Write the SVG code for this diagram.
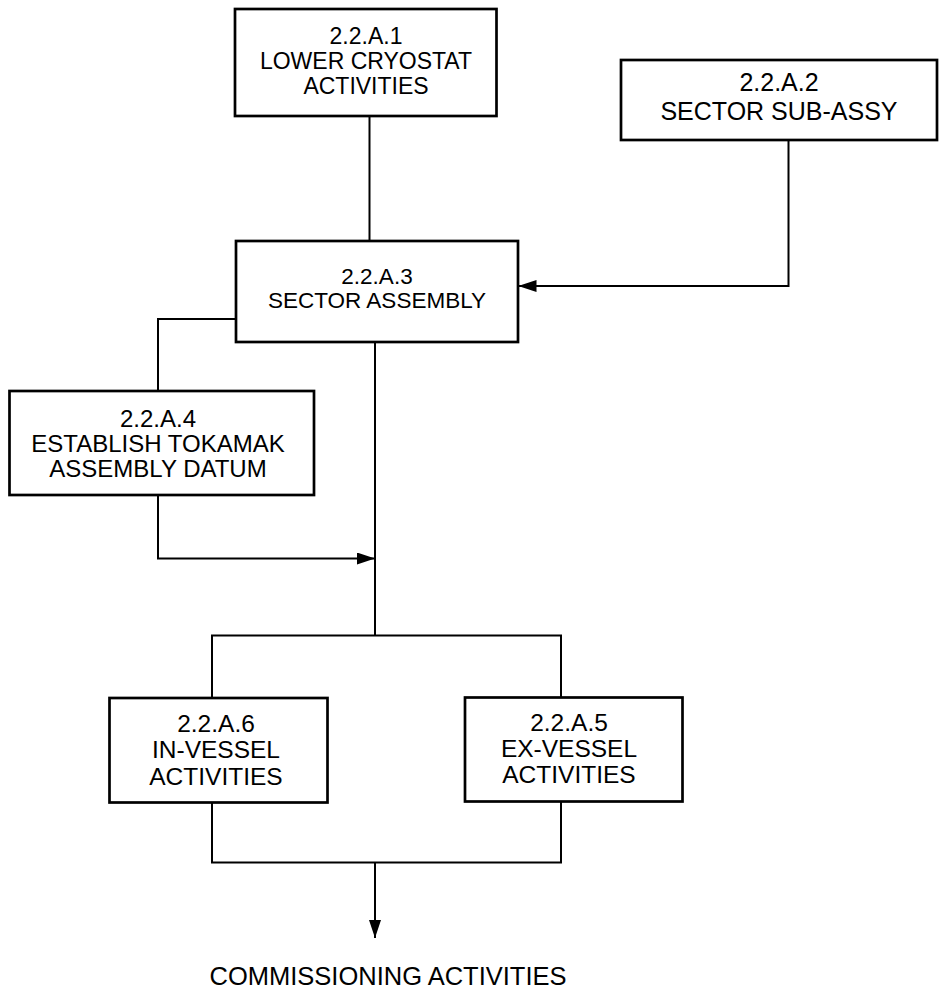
<svg xmlns="http://www.w3.org/2000/svg" width="940" height="992" viewBox="0 0 940 992">
<style>
.box{fill:#fff;stroke:#000;stroke-width:2.7}
.t{font-family:"Liberation Sans",Arial,sans-serif;fill:#000;text-anchor:middle}
.ln{fill:none;stroke:#000;stroke-width:2}
</style>
<defs>
<marker id="ah" viewBox="0 0 18 12" refX="18" refY="6" markerWidth="18" markerHeight="12" markerUnits="userSpaceOnUse" orient="auto">
<path d="M0,0 L18,6 L0,12 Z" fill="#000"/>
</marker>
</defs>
<rect width="940" height="992" fill="#fff"/>
<g id="connectors">
<path class="ln" d="M369.5,116 V241"/>
<path class="ln" d="M788.5,140 V286 H518.5" marker-end="url(#ah)"/>
<path class="ln" d="M236,319 H158 V391"/>
<path class="ln" d="M158,495 V558.5 H375" marker-end="url(#ah)"/>
<path class="ln" d="M375,342 V635.5"/>
<path class="ln" d="M212,697 V635.5 H561 V697"/>
<path class="ln" d="M212,802 V862.5 H561 V802"/>
<path class="ln" d="M375,862.5 V938" marker-end="url(#ah)"/>
</g>
<g id="n1">
<rect class="box" x="235" y="9" width="261.5" height="107"/>
<text class="t" font-size="23"><tspan x="366" y="44">2.2.A.1</tspan><tspan x="366" y="69">LOWER CRYOSTAT</tspan><tspan x="366" y="94">ACTIVITIES</tspan></text>
</g>
<g id="n2">
<rect class="box" x="621" y="60" width="316" height="80"/>
<text class="t" font-size="25"><tspan x="779" y="90.5">2.2.A.2</tspan><tspan x="779" y="120">SECTOR SUB-ASSY</tspan></text>
</g>
<g id="n3">
<rect class="box" x="236" y="241" width="282" height="101"/>
<text class="t" font-size="22.5"><tspan x="377" y="284">2.2.A.3</tspan><tspan x="377" y="308">SECTOR ASSEMBLY</tspan></text>
</g>
<g id="n4">
<rect class="box" x="9.5" y="391" width="304.5" height="104"/>
<text class="t" font-size="24"><tspan x="158" y="427">2.2.A.4</tspan><tspan x="158" y="452">ESTABLISH TOKAMAK</tspan><tspan x="158" y="477">ASSEMBLY DATUM</tspan></text>
</g>
<g id="n6">
<rect class="box" x="109.5" y="698" width="218" height="104.5"/>
<text class="t" font-size="24.5"><tspan x="216" y="732">2.2.A.6</tspan><tspan x="216" y="758">IN-VESSEL</tspan><tspan x="216" y="784.5">ACTIVITIES</tspan></text>
</g>
<g id="n5">
<rect class="box" x="465" y="697.5" width="217.5" height="104"/>
<text class="t" font-size="24.5"><tspan x="569" y="731">2.2.A.5</tspan><tspan x="569" y="757">EX-VESSEL</tspan><tspan x="569" y="783">ACTIVITIES</tspan></text>
</g>
<g id="commissioning">
<text class="t" font-size="25.5" x="388" y="985">COMMISSIONING ACTIVITIES</text>
</g>
</svg>
